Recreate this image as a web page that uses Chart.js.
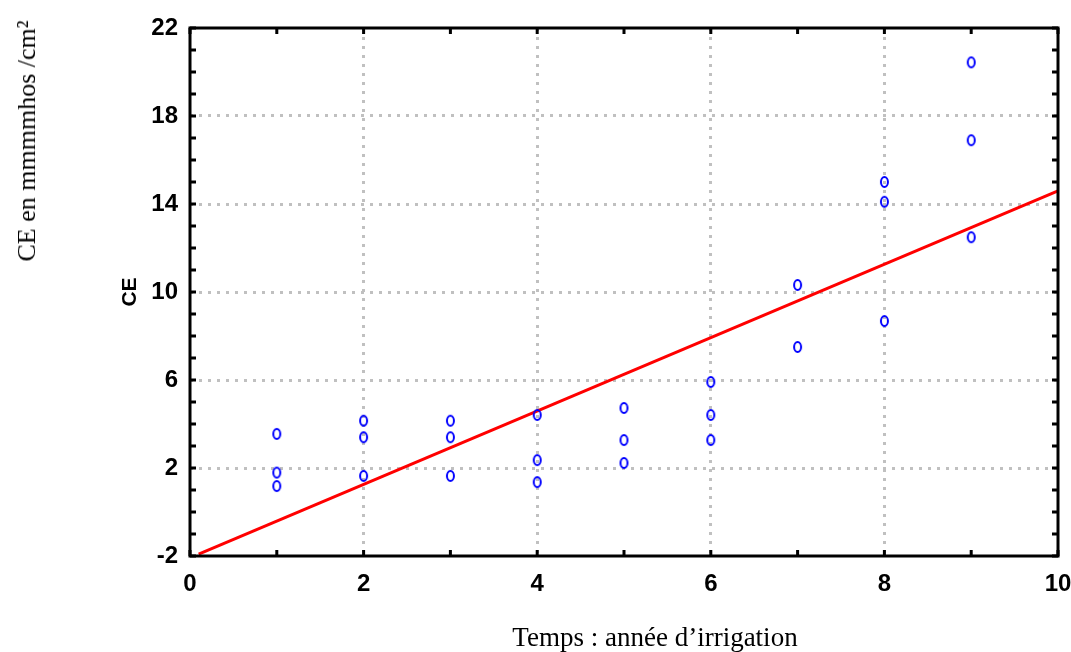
<!DOCTYPE html>
<html>
<head>
<meta charset="utf-8">
<script src="https://cdn.jsdelivr.net/npm/chart.js@4.4.1/dist/chart.umd.min.js"></script>
<style>
  body { margin: 0; background: #fff; }
  #wrap { position: relative; width: 1071px; height: 652px; }
  canvas { position: absolute; left: 0; top: 0; }
  .outer {
    position: absolute;
    font-family: "Liberation Serif", "Times New Roman", serif;
    font-size: 26px;
    color: #000;
    white-space: nowrap;
  }
  #ylab { left: 27px; top: 141px; transform: translate(-50%, -50%) rotate(-90deg); }
  #xlab { left: 655px; top: 637px; font-size: 27px; transform: translate(-50%, -50%); }
</style>
</head>
<body>
<div id="wrap">
  <canvas id="chart" width="1071" height="652"></canvas>
  <div class="outer" id="ylab">CE en mmmmhos /cm²</div>
  <div class="outer" id="xlab">Temps : année d’irrigation</div>
</div>
<script>
// observed points (years of irrigation vs CE)
const years = [1, 1, 1, 2, 2, 2, 3, 3, 3, 4, 4, 4, 5, 5, 5, 6, 6, 6, 7, 7, 8, 8, 8, 9, 9, 9];
const ceValues = [3.55, 1.79, 1.18, 4.15, 3.40, 1.64, 4.15, 3.40, 1.64, 4.41, 2.36, 1.36,
                  4.73, 3.27, 2.23, 5.91, 4.41, 3.27, 10.32, 7.50, 15.0, 14.1, 8.68, 20.44, 16.9, 12.49];

// fitted line end points
const fitX = [0.1, 10];
const fitY = [-1.92, 14.6];

// axis ticks
const xTicks = [0, 2, 4, 6, 8, 10];
const yTicks = [-2, 2, 6, 10, 14, 18, 22];

// small open ellipse marker
const marker = document.createElement("canvas");
marker.width = 11;
marker.height = 14;
const mctx = marker.getContext("2d");
mctx.strokeStyle = "#0000ff";
mctx.lineWidth = 2;
mctx.beginPath();
mctx.ellipse(5.5, 7, 3.5, 5, 0, 0, Math.PI * 2);
mctx.stroke();

const tickFont = { family: "'Liberation Sans Narrow', 'Arial Narrow', sans-serif", size: 24, weight: "bold" };

function gridColor(ctx, lo, hi) {
    const v = ctx.tick ? ctx.tick.value : null;
    if (v === lo || v === hi) return "rgba(0,0,0,0)";
    return "#c0c0c0";
}

// frame and small inward ticks
const framePlugin = {
    id: "frame",
    afterDraw(chart) {
        const { ctx, chartArea: a, scales } = chart;
        ctx.save();
        ctx.strokeStyle = "#000";
        ctx.lineWidth = 3;
        ctx.strokeRect(a.left, a.top, a.right - a.left, a.bottom - a.top);
        ctx.beginPath();
        for (let v = scales.x.min; v <= scales.x.max; v++) {
            const px = scales.x.getPixelForValue(v);
            ctx.moveTo(px, a.bottom);
            ctx.lineTo(px, a.bottom - 6);
            ctx.moveTo(px, a.top);
            ctx.lineTo(px, a.top + 6);
        }
        for (let v = scales.y.min; v <= scales.y.max; v++) {
            const py = scales.y.getPixelForValue(v);
            ctx.moveTo(a.left, py);
            ctx.lineTo(a.left + 6, py);
            ctx.moveTo(a.right, py);
            ctx.lineTo(a.right - 6, py);
        }
        ctx.stroke();
        ctx.restore();
    }
};

new Chart(document.getElementById("chart"), {
    type: "scatter",
    data: {
        datasets: [
            {
                type: "line",
                data: fitX.map((x, i) => ({ x: x, y: fitY[i] })),
                borderColor: "#ff0000",
                borderWidth: 3,
                pointRadius: 0,
                fill: false,
                order: 2
            },
            {
                data: years.map((x, i) => ({ x: x, y: ceValues[i] })),
                pointStyle: marker,
                pointRadius: 5,
                order: 1
            }
        ]
    },
    options: {
        responsive: false,
        animation: false,
        layout: { padding: { top: 28, right: 13, left: 0, bottom: 0 } },
        plugins: { legend: { display: false }, tooltip: { enabled: false } },
        scales: {
            x: {
                type: "linear",
                min: 0,
                max: 10,
                afterBuildTicks: (s) => { s.ticks = xTicks.map(v => ({ value: v })); },
                afterFit: (s) => { s.height = 96; s.paddingLeft = 0; s.paddingRight = 0; },
                grid: {
                    color: (c) => gridColor(c, 0, 10),
                    lineWidth: 3,
                    drawTicks: false
                },
                border: { display: false, dash: [3, 6] },
                ticks: { color: "#000", font: tickFont, padding: 14, maxRotation: 0 }
            },
            y: {
                min: -2,
                max: 22,
                afterBuildTicks: (s) => { s.ticks = yTicks.map(v => ({ value: v })); },
                afterFit: (s) => { s.width = 190; s.paddingTop = 0; s.paddingBottom = 0; },
                grid: {
                    color: (c) => gridColor(c, -2, 22),
                    lineWidth: 3,
                    drawTicks: false
                },
                border: { display: false, dash: [3, 6] },
                ticks: { color: "#000", font: tickFont, padding: 12 },
                title: {
                    display: true,
                    text: "CE",
                    color: "#000",
                    font: { family: "'Liberation Sans', sans-serif", size: 21, weight: "bold" },
                    padding: { top: 118, bottom: 0 }
                }
            }
        }
    },
    plugins: [framePlugin]
});
</script>
</body>
</html>
